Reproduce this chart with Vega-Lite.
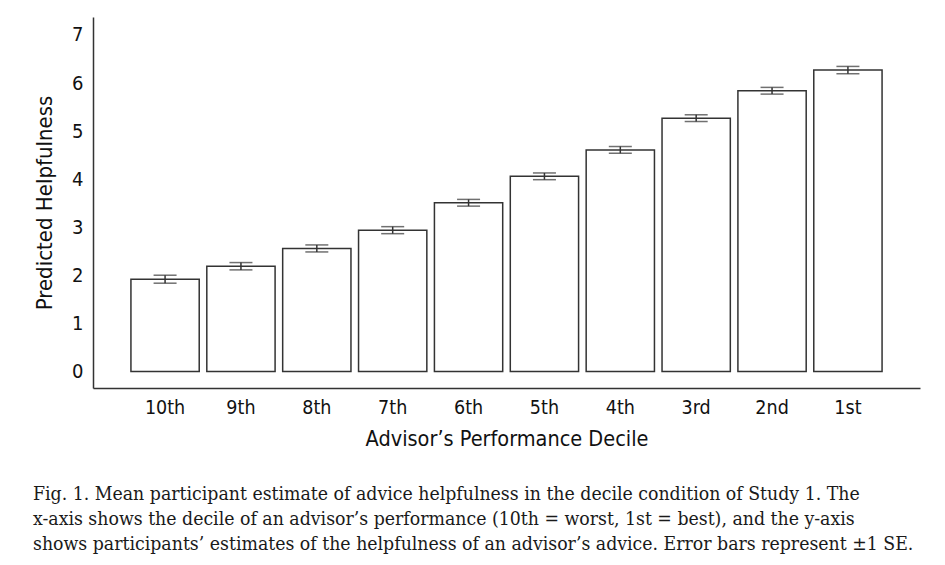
{
  "$schema": "https://vega.github.io/schema/vega-lite/v6.json",
  "width": 827,
  "height": 371,
  "autosize": "none",
  "padding": {"left": 93, "top": 17, "right": 25, "bottom": 177},
  "background": "white",
  "data": {
    "values": [
      {"decile": "10th", "mean": 1.92, "lo": 1.837, "hi": 2.003},
      {"decile": "9th", "mean": 2.19, "lo": 2.114, "hi": 2.266},
      {"decile": "8th", "mean": 2.56, "lo": 2.487, "hi": 2.633},
      {"decile": "7th", "mean": 2.94, "lo": 2.867, "hi": 3.013},
      {"decile": "6th", "mean": 3.51, "lo": 3.44, "hi": 3.58},
      {"decile": "5th", "mean": 4.06, "lo": 3.99, "hi": 4.13},
      {"decile": "4th", "mean": 4.61, "lo": 4.54, "hi": 4.68},
      {"decile": "3rd", "mean": 5.27, "lo": 5.2, "hi": 5.34},
      {"decile": "2nd", "mean": 5.84, "lo": 5.77, "hi": 5.91},
      {"decile": "1st", "mean": 6.27, "lo": 6.194, "hi": 6.346}
    ]
  },
  "config": {
    "view": {"stroke": null},
    "font": "DejaVu Sans Condensed",
    "axis": {
      "labelFont": "Liberation Sans Narrow, Arial Narrow, DejaVu Sans Condensed, sans-serif",
      "titleFont": "Liberation Sans Narrow, Arial Narrow, DejaVu Sans Condensed, sans-serif",
      "labelColor": "#111",
      "titleColor": "#111",
      "domainColor": "#333",
      "domainWidth": 1.5,
      "ticks": false,
      "grid": false,
      "titleFontWeight": "normal"
    }
  },
  "title": {
    "text": [
      "Fig. 1.  Mean participant estimate of advice helpfulness in the decile condition of Study 1. The",
      "x-axis shows the decile of an advisor’s performance (10th = worst, 1st = best), and the y-axis",
      "shows participants’ estimates of the helpfulness of an advisor’s advice. Error bars represent ±1 SE."
    ],
    "orient": "bottom",
    "anchor": "start",
    "frame": "group",
    "dx": -60,
    "offset": 35,
    "font": "DejaVu Serif Condensed, Liberation Serif, serif",
    "fontSize": 19.3,
    "fontWeight": "normal",
    "color": "#1a1a1a",
    "lineHeight": 25
  },
  "encoding": {
    "x": {
      "field": "decile",
      "type": "nominal",
      "sort": null,
      "scale": {"paddingInner": 0.1, "paddingOuter": 0.5},
      "axis": {
        "title": "Advisor’s Performance Decile",
        "labelAngle": 0,
        "labelFontSize": 19.5,
        "labelPadding": 10,
        "titleFontSize": 21.5,
        "titlePadding": 12
      }
    }
  },
  "layer": [
    {
      "mark": {"type": "bar", "fill": "white", "stroke": "#333", "strokeWidth": 1.5},
      "encoding": {
        "y": {
          "field": "mean",
          "type": "quantitative",
          "scale": {"domain": [-0.343, 7.374], "nice": false, "zero": false},
          "axis": {
            "title": "Predicted Helpfulness",
            "values": [0, 1, 2, 3, 4, 5, 6, 7],
            "labelFontSize": 20,
            "labelPadding": 10,
            "titleFontSize": 22,
            "titlePadding": 15
          }
        },
        "y2": {"datum": 0}
      }
    },
    {
      "mark": {"type": "rule", "stroke": "#333", "strokeWidth": 1.5},
      "encoding": {
        "y": {"field": "lo", "type": "quantitative"},
        "y2": {"field": "hi"}
      }
    },
    {
      "mark": {"type": "tick", "color": "#333", "size": 23, "thickness": 1.5, "orient": "horizontal"},
      "encoding": {"y": {"field": "lo", "type": "quantitative"}}
    },
    {
      "mark": {"type": "tick", "color": "#333", "size": 23, "thickness": 1.5, "orient": "horizontal"},
      "encoding": {"y": {"field": "hi", "type": "quantitative"}}
    }
  ]
}
